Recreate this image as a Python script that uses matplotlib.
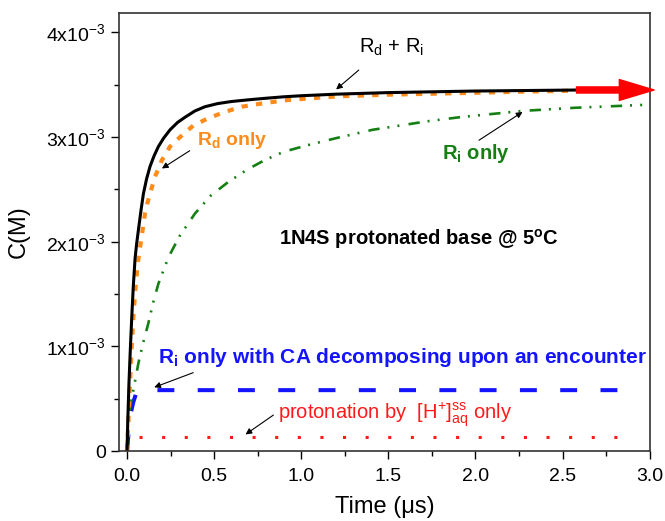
import matplotlib
matplotlib.use('agg')
import matplotlib.pyplot as plt
from matplotlib.ticker import MultipleLocator, FuncFormatter

plt.rcParams['font.family'] = ['Liberation Sans', 'DejaVu Sans']
plt.rcParams['mathtext.default'] = 'regular'

# time axis (us) and concentrations (units of 1e-3 M)
t_both = [0, 0.004, 0.011, 0.019, 0.027, 0.036, 0.046, 0.055, 0.065, 0.08, 0.094, 0.112, 0.132, 0.155,
          0.18, 0.21, 0.247, 0.29, 0.333, 0.39, 0.447, 0.52, 0.6, 0.69, 0.79, 0.9, 1.0, 1.2, 1.5, 2.0, 2.6]
c_both = [0, 0.28, 0.65, 0.98, 1.28, 1.58, 1.84, 1.98, 2.11, 2.3, 2.46, 2.6, 2.72, 2.82,
          2.91, 2.99, 3.07, 3.14, 3.19, 3.25, 3.29, 3.32, 3.34, 3.355, 3.37, 3.385, 3.395, 3.41, 3.425,
          3.44, 3.45]

t_rd = [0, 0.008, 0.017, 0.026, 0.036, 0.048, 0.061, 0.075, 0.09, 0.103, 0.117, 0.132, 0.16, 0.2, 0.247,
        0.304, 0.38, 0.466, 0.56, 0.658, 0.77, 0.9, 1.05, 1.22, 1.5, 1.91, 2.3, 2.8]
c_rd = [0, 0.3, 0.65, 0.97, 1.28, 1.55, 1.79, 1.95, 2.12, 2.27, 2.37, 2.46, 2.62, 2.78, 2.91,
        3.0, 3.11, 3.18, 3.24, 3.29, 3.32, 3.35, 3.37, 3.39, 3.405, 3.42, 3.435, 3.45]

t_ri = [0, 0.006, 0.017, 0.036, 0.065, 0.09, 0.122, 0.15, 0.18, 0.237, 0.3, 0.39, 0.48, 0.58, 0.69,
        0.79, 0.9, 1.03, 1.2, 1.41, 1.72, 1.91, 2.27, 2.57, 3.0]
c_ri = [0, 0.2, 0.42, 0.58, 0.84, 1.02, 1.22, 1.42, 1.6, 1.85, 2.05, 2.27, 2.44, 2.57, 2.69,
        2.78, 2.86, 2.92, 2.99, 3.07, 3.15, 3.19, 3.25, 3.28, 3.31]

t_ca = [0, 0.01, 0.021, 0.036, 0.05, 0.08, 0.12, 0.5, 1.0, 1.5, 2.0, 2.5, 2.9]
c_ca = [0, 0.2, 0.36, 0.47, 0.54, 0.58, 0.583, 0.583, 0.583, 0.583, 0.583, 0.583, 0.583]

t_h = [0, 0.01, 0.03, 0.5, 1.0, 1.5, 2.0, 2.5, 2.92]
c_h = [0, 0.1, 0.131, 0.131, 0.131, 0.131, 0.131, 0.131, 0.131]

y_ticks = [0, 1, 2, 3, 4]

fig = plt.figure(figsize=(6.65, 5.21), dpi=100)
ax = fig.add_axes([0.179, 0.134, 0.798, 0.842])

ax.plot(t_h, c_h, color='#ff1a1a', lw=2.2, dashes=(1, 6.4))
ax.plot(t_ca, c_ca, color='#1414ff', lw=2.9, dashes=(4.2, 5.8))
ax.plot(t_ri, c_ri, color='#148014', lw=1.9, dashes=(4.3, 3, 0.75, 3.1, 0.75, 3.5))
ax.plot(t_rd, c_rd, color='#ff8c1a', lw=3.0, dashes=(1.5, 2.0))
ax.plot(t_both, c_both, color='black', lw=2.2)

# red arrow continuing the plateau
ax.annotate('', xy=(3.025, 3.45), xytext=(2.58, 3.45), annotation_clip=False,
            arrowprops=dict(arrowstyle='simple,head_length=1.25,head_width=0.75,tail_width=0.22',
                            color='red', mutation_scale=20, shrinkA=0, shrinkB=0))

arr = dict(arrowstyle='-|>', color='black', lw=0.8, mutation_scale=9, shrinkA=0, shrinkB=0)
ax.text(1.52, 3.86, 'R$_d$ + R$_i$', ha='center', va='center', fontsize=14.5)
ax.annotate('', xy=(1.2, 3.455), xytext=(1.33, 3.64), arrowprops=arr)
ax.text(0.40, 2.97, 'R$_d$ only', color='#ff8c1a', fontsize=14, fontweight='bold', va='center')
ax.annotate('', xy=(0.2, 2.70), xytext=(0.36, 2.87), arrowprops=arr)
ax.text(1.81, 2.84, 'R$_i$ only', color='#148014', fontsize=14.5, fontweight='bold', va='center')
ax.annotate('', xy=(2.27, 3.24), xytext=(2.02, 2.97), arrowprops=arr)
ax.text(0.872, 2.03, '1N4S protonated base @ 5$^o$C', fontsize=14.5, fontweight='bold', va='center')
ax.text(0.176, 0.895, 'R$_i$ only with CA decomposing upon an encounter', color='#1414ff',
        fontsize=15, fontweight='bold', va='center')
ax.annotate('', xy=(0.156, 0.61), xytext=(0.38, 0.75), arrowprops=arr)
ax.text(0.866, 0.35, 'protonation by  $[H^{+}]^{ss}_{aq}$ only', color='#ff1a1a', fontsize=14.5,
        va='center')
ax.annotate('', xy=(0.68, 0.16), xytext=(0.84, 0.345), arrowprops=arr)

ax.set_xlim(-0.046, 3.0)
ax.set_ylim(0, 4.19)
ax.xaxis.set_major_locator(MultipleLocator(0.5))
ax.xaxis.set_minor_locator(MultipleLocator(0.25))
ax.set_yticks(y_ticks)
ax.yaxis.set_minor_locator(MultipleLocator(0.5))
ax.xaxis.set_major_formatter(FuncFormatter(lambda v, p: '%.1f' % v))
ax.yaxis.set_major_formatter(FuncFormatter(
    lambda v, p: '0' if abs(v) < 1e-9 else '%dx10$^{-3}$' % round(v)))
ax.tick_params(which='both', direction='out', top=False, right=False, labelsize=14, width=1)
ax.tick_params(which='major', length=6)
ax.tick_params(which='minor', length=3.5)
ax.tick_params(axis='x', which='major', pad=6)
for s in ax.spines.values():
    s.set_linewidth(1.2)
    s.set_color('#333333')

ax.set_xlabel('Time (\u03bcs)', fontsize=17, labelpad=8)
ax.set_ylabel('C(M)', fontsize=17, labelpad=12)

fig.savefig('out.png', dpi=100)
